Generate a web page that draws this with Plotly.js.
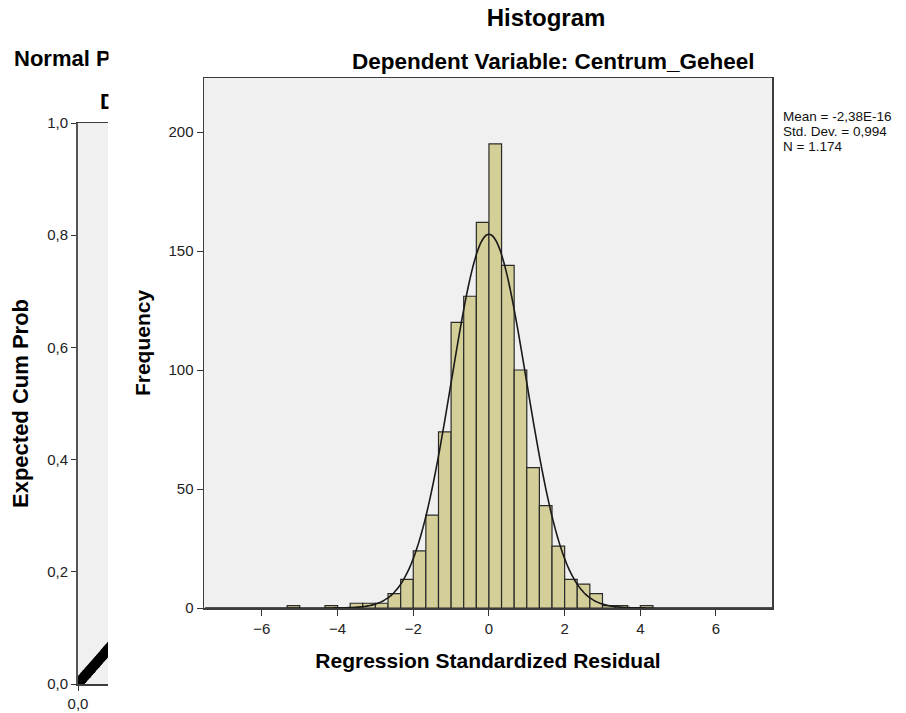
<!DOCTYPE html>
<html>
<head>
<meta charset="utf-8">
<script src="https://cdn.plot.ly/plotly-3.0.1.min.js"></script>
<style>html,body{margin:0;padding:0;background:#fff;}#chart{width:906px;height:713px;}</style>
</head>
<body>
<div id="chart"></div>
<script>
// ---- Histogram data (bins of width 1/3, left edges) ----
const binWidth = 1/3;
const binStarts = [-5.333, -4.333, -3.667, -3.333, -3.000, -2.667, -2.333,
  -2.000, -1.667, -1.333, -1.000, -0.667, -0.333,
  0.000, 0.333, 0.667, 1.000, 1.333, 1.667,
  2.000, 2.333, 2.667, 3.000, 3.333, 4.000];
const binCounts = [1, 1, 2, 2, 2, 6, 12,
  24, 39, 74, 120, 131, 162,
  195, 144, 100, 59, 43, 26,
  12, 10, 6, 1, 1, 1];

// ---- Summary statistics (shown in the chart) ----
const statMean = -2.38e-16;
const statSD = 0.994;
const statN = 1174;
const statLines = ["Mean = -2,38E-16", "Std. Dev. = 0,994", "N = 1.174"];

// ---- Normal P-P plot (visible part only) ----
const ppObserved = [0.000, 0.004, 0.008, 0.012, 0.016, 0.020, 0.024, 0.028, 0.032, 0.036, 0.040, 0.044, 0.048, 0.052, 0.056, 0.060];
const ppExpected = [0.001, 0.005, 0.009, 0.014, 0.018, 0.023, 0.027, 0.032, 0.036, 0.041, 0.046, 0.050, 0.055, 0.060, 0.064, 0.069];

// ---- Tick labels ----
const histXTicks = [-6, -4, -2, 0, 2, 4, 6];
const histYTicks = [0, 50, 100, 150, 200];
const ppYTicks = [0, 0.2, 0.4, 0.6, 0.8, 1.0];

// normal curve fitted from the displayed statistics
const curveX = [], curveY = [];
for (let x = -7.5; x <= 7.5001; x += 0.05) {
  curveX.push(x);
  const z = (x - statMean) / statSD;
  curveY.push(statN * binWidth * Math.exp(-0.5 * z * z) / (statSD * Math.sqrt(2 * Math.PI)));
}

const W = 906, H = 713;
const px = v => v / W;
const py = v => 1 - v / H;
const FONT = "Liberation Sans, Arial, sans-serif";
const boldFont = s => ({family: FONT, size: s, weight: 700, color: "#000"});

const traces = [
  {
    type: "bar", x: binStarts, y: binCounts, width: binWidth, offset: 0,
    marker: {color: "#d4cf99", line: {color: "#2a2a2a", width: 1.2}},
    xaxis: "x", yaxis: "y", hoverinfo: "skip"
  },
  {
    type: "scatter", mode: "lines", x: curveX, y: curveY,
    line: {color: "#1a1a1a", width: 1.6, shape: "spline"},
    xaxis: "x", yaxis: "y", hoverinfo: "skip"
  },
  {
    type: "scatter", mode: "lines+markers", x: ppObserved, y: ppExpected,
    line: {color: "#000", width: 10},
    marker: {color: "#000", size: 10},
    xaxis: "x2", yaxis: "y2", hoverinfo: "skip", cliponaxis: true
  }
];

const axisCommon = {
  showgrid: false, zeroline: false, showline: true,
  ticks: "outside", ticklen: 6, tickwidth: 1, tickcolor: "#333",
  tickfont: {family: FONT, size: 15, color: "#222"}
};

const statAnn = statLines.map((t, i) => ({
  text: t, xref: "paper", yref: "paper",
  x: px(781), y: py(116 + i * 15.5), xanchor: "left", yanchor: "middle", align: "left",
  showarrow: false, font: {family: FONT, size: 13.5, color: "#111"}
}));

const layout = {
  width: W, height: H,
  margin: {l: 0, r: 0, t: 0, b: 0},
  paper_bgcolor: "#ffffff",
  plot_bgcolor: "#f0f0f0",
  separators: ",.",
  showlegend: false,
  font: {family: FONT, color: "#000"},
  bargap: 0,
  title: {
    text: "Histogram", x: px(546), xanchor: "center", xref: "paper",
    y: py(18), yanchor: "middle", yref: "paper",
    font: boldFont(24)
  },
  xaxis: Object.assign({}, axisCommon, {
    domain: [px(204), px(772)], anchor: "y",
    range: [-7.53, 7.48], tickvals: histXTicks,
    linecolor: "#3c3c3c", linewidth: 1.5, mirror: true,
    title: {text: "Regression Standardized Residual", standoff: 18, font: boldFont(21)}
  }),
  yaxis: Object.assign({}, axisCommon, {
    domain: [py(608), py(78)], anchor: "x",
    range: [0, 222.7], tickvals: histYTicks,
    linecolor: "#3c3c3c", linewidth: 1.5, mirror: true,
    title: {text: "Frequency", standoff: 12, font: boldFont(21)}
  }),
  xaxis2: Object.assign({}, axisCommon, {
    domain: [px(78), px(108)], anchor: "y2",
    range: [0, 30 / 560], tickvals: [0], tickformat: ".1f",
    linecolor: "#3c3c3c", linewidth: 1.5, mirror: true, ticklen: 5
  }),
  yaxis2: Object.assign({}, axisCommon, {
    domain: [py(684), py(123)], anchor: "x2",
    range: [0, 1], tickvals: ppYTicks, tickformat: ".1f",
    linecolor: "#555", linewidth: 2, mirror: false, ticklen: 5,
    title: {text: "Expected Cum Prob", standoff: 12, font: boldFont(22)}
  }),
  annotations: [
    {
      text: "Normal P", xref: "paper", yref: "paper",
      x: px(12), y: py(58), xanchor: "left", yanchor: "middle",
      showarrow: false, font: boldFont(22)
    },
    {
      text: "D", xref: "paper", yref: "paper",
      x: px(98), y: py(102), xanchor: "left", yanchor: "middle",
      showarrow: false, font: boldFont(22)
    },
    {
      // white panel edge of the overlapping histogram window
      text: " ", xref: "paper", yref: "paper",
      x: px(108), y: py(40), xanchor: "left", yanchor: "top",
      width: 60, height: 78, bgcolor: "#ffffff", showarrow: false
    },
    {
      text: "Dependent Variable: Centrum_Geheel", xref: "paper", yref: "paper",
      x: px(553), y: py(62), xanchor: "center", yanchor: "middle",
      showarrow: false, font: boldFont(22.5)
    }
  ].concat(statAnn)
};

Plotly.newPlot("chart", traces, layout, {displayModeBar: false, staticPlot: true});
</script>
</body>
</html>
